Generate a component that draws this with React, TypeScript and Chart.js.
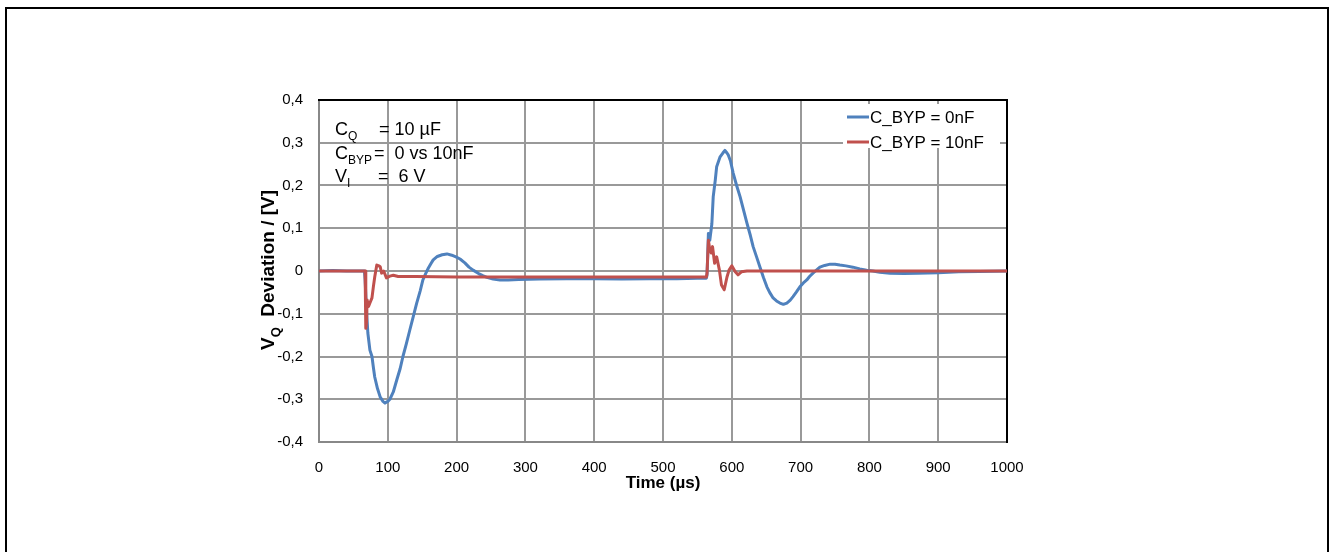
import React, { useEffect, useRef } from 'react';
import { Chart, registerables } from 'chart.js';

Chart.register(...registerables);

// ---- Data (time in µs, deviation in V) ----
const blueTimes = [0, 20, 40, 60, 66, 67, 69, 71, 74, 77, 79, 81, 85, 89, 93, 96, 100, 103, 108, 113, 118, 122, 127, 132, 137, 142, 147, 151, 155, 159, 163, 166, 172, 179, 186, 193, 199, 205, 212, 218, 224, 232, 238, 244, 253, 263, 275, 290, 320, 360, 400, 440, 480, 520, 550, 563, 564, 566, 568, 571, 573, 576, 578, 583, 587, 590, 593, 595, 598, 602, 607, 612, 617, 622, 627, 631, 636, 641, 646, 651, 655, 660, 665, 670, 675, 680, 685, 689, 694, 699, 704, 709, 713, 718, 723, 728, 735, 743, 750, 757, 766, 776, 786, 796, 805, 815, 830, 850, 870, 900, 930, 960, 1000];
const blueValues = [0.0, 0.001, 0.0, 0.0, 0.0, -0.02, -0.09, -0.145, -0.185, -0.2, -0.225, -0.248, -0.275, -0.295, -0.305, -0.309, -0.305, -0.3, -0.283, -0.255, -0.228, -0.2, -0.17, -0.138, -0.107, -0.075, -0.047, -0.021, -0.006, 0.007, 0.018, 0.026, 0.034, 0.038, 0.04, 0.037, 0.033, 0.028, 0.019, 0.009, 0.002, -0.006, -0.011, -0.015, -0.019, -0.021, -0.021, -0.02, -0.019, -0.018, -0.018, -0.019, -0.018, -0.018, -0.017, -0.017, -0.01, 0.088, 0.072, 0.11, 0.174, 0.213, 0.244, 0.267, 0.276, 0.282, 0.276, 0.271, 0.258, 0.229, 0.2, 0.174, 0.143, 0.112, 0.083, 0.057, 0.033, 0.009, -0.015, -0.037, -0.05, -0.063, -0.07, -0.075, -0.078, -0.075, -0.068, -0.06, -0.049, -0.037, -0.028, -0.021, -0.013, -0.005, 0.002, 0.009, 0.013, 0.016, 0.016, 0.014, 0.012, 0.009, 0.005, 0.002, 0.0, -0.003, -0.005, -0.006, -0.005, -0.004, -0.002, -0.001, 0.0];

const redTimes = [0, 30, 60, 67, 68, 69, 70, 72, 74, 77, 79, 81, 84, 87, 89, 91, 94, 98, 103, 108, 115, 140, 200, 300, 400, 500, 563, 564, 566, 568, 570, 572, 575, 578, 582, 585, 589, 593, 596, 600, 605, 609, 614, 622, 700, 800, 900, 1000];
const redValues = [0.0, 0.0, 0.0, 0.0, -0.134, -0.12, -0.068, -0.083, -0.075, -0.063, -0.037, -0.014, 0.014, 0.012, 0.01, -0.005, 0.0, -0.016, -0.012, -0.01, -0.013, -0.013, -0.014, -0.014, -0.014, -0.014, -0.014, -0.005, 0.072, 0.05, 0.042, 0.057, 0.018, 0.033, 0.002, -0.033, -0.044, -0.014, 0.002, 0.012, -0.002, -0.009, -0.002, 0.0, 0.0, 0.0, 0.0, 0.0];

const seriesNames = ['C_BYP = 0nF', 'C_BYP = 10nF'];
const seriesColors = ['#4F81BD', '#C0504D'];

const xAxis = { min: 0, max: 1000, step: 100, title: 'Time (µs)' };
const yAxis = { min: -0.4, max: 0.4, step: 0.1 };

const annotationLines = [
  { main: 'C', sub: 'Q', rest: '= 10 µF', restX: 379 },
  { main: 'C', sub: 'BYP', rest: '=  0 vs 10nF', restX: 374 },
  { main: 'V', sub: 'I', rest: '=  6 V', restX: 378 },
];

const FONT = '"Liberation Sans", Arial, sans-serif';

const decorPlugin = {
  id: 'decor',
  beforeDraw(chart: any) {
    const ctx = chart.ctx;
    ctx.save();
    ctx.fillStyle = '#ffffff';
    ctx.fillRect(0, 0, chart.width, chart.height);
    ctx.strokeStyle = '#000000';
    ctx.lineWidth = 2;
    ctx.beginPath();
    ctx.moveTo(6, chart.height + 2);
    ctx.lineTo(6, 8);
    ctx.lineTo(1328, 8);
    ctx.lineTo(1328, chart.height + 2);
    ctx.stroke();
    ctx.restore();
  },
  beforeDatasetsDraw(chart: any) {
    const ctx = chart.ctx;
    const a = chart.chartArea;
    ctx.save();
    // legend background
    ctx.fillStyle = '#ffffff';
    ctx.fillRect(843, 104, 157, 44);
    // black top and right frame
    ctx.strokeStyle = '#000000';
    ctx.lineWidth = 2;
    ctx.beginPath();
    ctx.moveTo(a.left - 1, a.top);
    ctx.lineTo(a.right, a.top);
    ctx.lineTo(a.right, a.bottom + 1);
    ctx.stroke();

    // annotation text
    ctx.fillStyle = '#000000';
    ctx.textBaseline = 'alphabetic';
    ctx.textAlign = 'left';
    const baselines = [135, 159, 182];
    annotationLines.forEach((ln, i) => {
      const by = baselines[i];
      ctx.font = `18px ${FONT}`;
      ctx.fillText(ln.main, 335, by);
      const mw = ctx.measureText(ln.main).width;
      ctx.font = `12px ${FONT}`;
      ctx.fillText(ln.sub, 335 + mw, by + 5);
      ctx.font = `18px ${FONT}`;
      ctx.fillText(ln.rest, ln.restX, by);
    });

    // legend
    ctx.font = `17px ${FONT}`;
    ctx.textBaseline = 'middle';
    seriesNames.forEach((name, i) => {
      const y = 117 + i * 25;
      ctx.strokeStyle = seriesColors[i];
      ctx.lineWidth = 3;
      ctx.beginPath();
      ctx.moveTo(847, y);
      ctx.lineTo(869, y);
      ctx.stroke();
      ctx.fillStyle = '#000000';
      ctx.fillText(name, 870, y + 1);
    });

    // x title
    ctx.font = `bold 17px ${FONT}`;
    ctx.textAlign = 'center';
    ctx.textBaseline = 'alphabetic';
    ctx.fillText(xAxis.title, (a.left + a.right) / 2, 488);

    // y title (rotated, with subscript)
    ctx.translate(274, 270);
    ctx.rotate(-Math.PI / 2);
    ctx.textAlign = 'left';
    const p1 = 'V';
    const p2 = 'Q';
    const p3 = '  Deviation / [V]';
    ctx.font = `bold 19px ${FONT}`;
    const w1 = ctx.measureText(p1).width;
    const w3 = ctx.measureText(p3).width;
    ctx.font = `bold 13px ${FONT}`;
    const w2 = ctx.measureText(p2).width;
    const total = w1 + w2 + w3;
    let x = -total / 2;
    ctx.font = `bold 19px ${FONT}`;
    ctx.fillText(p1, x, 0);
    x += w1;
    ctx.font = `bold 13px ${FONT}`;
    ctx.fillText(p2, x, 6);
    x += w2;
    ctx.font = `bold 19px ${FONT}`;
    ctx.fillText(p3, x, 0);
    ctx.restore();
  },
};

export default function App() {
  const canvasRef = useRef<HTMLCanvasElement | null>(null);

  useEffect(() => {
    const canvas = canvasRef.current;
    if (!canvas) return;
    const blueData = blueTimes.map((t, i) => ({ x: t, y: blueValues[i] }));
    const redData = redTimes.map((t, i) => ({ x: t, y: redValues[i] }));

    const chart = new Chart(canvas, {
      type: 'line',
      data: {
        datasets: [
          {
            label: seriesNames[0],
            data: blueData,
            borderColor: seriesColors[0],
            backgroundColor: seriesColors[0],
            borderWidth: 3,
            pointRadius: 0,
            tension: 0,
            borderJoinStyle: 'round',
            order: 1,
          },
          {
            label: seriesNames[1],
            data: redData,
            borderColor: seriesColors[1],
            backgroundColor: seriesColors[1],
            borderWidth: 3,
            pointRadius: 0,
            tension: 0,
            borderJoinStyle: 'round',
            order: 0,
          },
        ],
      },
      options: {
        animation: false,
        responsive: false,
        maintainAspectRatio: false,
        devicePixelRatio: 1,
        parsing: false,
        layout: { padding: { left: 259, top: 100, right: 323, bottom: 60 } },
        plugins: { legend: { display: false }, tooltip: { enabled: false }, title: { display: false } },
        scales: {
          x: {
            type: 'linear',
            min: xAxis.min,
            max: xAxis.max,
            afterFit: (s: any) => { s.height = 50; },
            ticks: {
              stepSize: xAxis.step,
              autoSkip: false,
              maxRotation: 0,
              padding: 17,
              color: '#000000',
              font: { family: FONT, size: 15 },
              callback: (v: any) => String(v),
            },
            grid: { color: '#999999', lineWidth: 2, drawTicks: false },
            border: { color: '#888888', width: 2 },
          },
          y: {
            type: 'linear',
            min: yAxis.min,
            max: yAxis.max,
            afterFit: (s: any) => { s.width = 60; },
            ticks: {
              stepSize: yAxis.step,
              autoSkip: false,
              padding: 16,
              color: '#000000',
              font: { family: FONT, size: 15 },
              callback: (v: any) => (Math.abs(v) < 1e-9 ? '0' : Number(v).toFixed(1).replace('.', ',')),
            },
            grid: { color: '#999999', lineWidth: 2, drawTicks: false },
            border: { color: '#888888', width: 2 },
          },
        },
      },
      plugins: [decorPlugin],
    } as any);

    return () => chart.destroy();
  }, []);

  return (
    <div style={{ position: 'fixed', left: 0, top: 0, width: 1330, height: 552, background: '#fff' }}>
      <canvas ref={canvasRef} width={1330} height={552} style={{ display: 'block', width: 1330, height: 552 }} />
    </div>
  );
}
